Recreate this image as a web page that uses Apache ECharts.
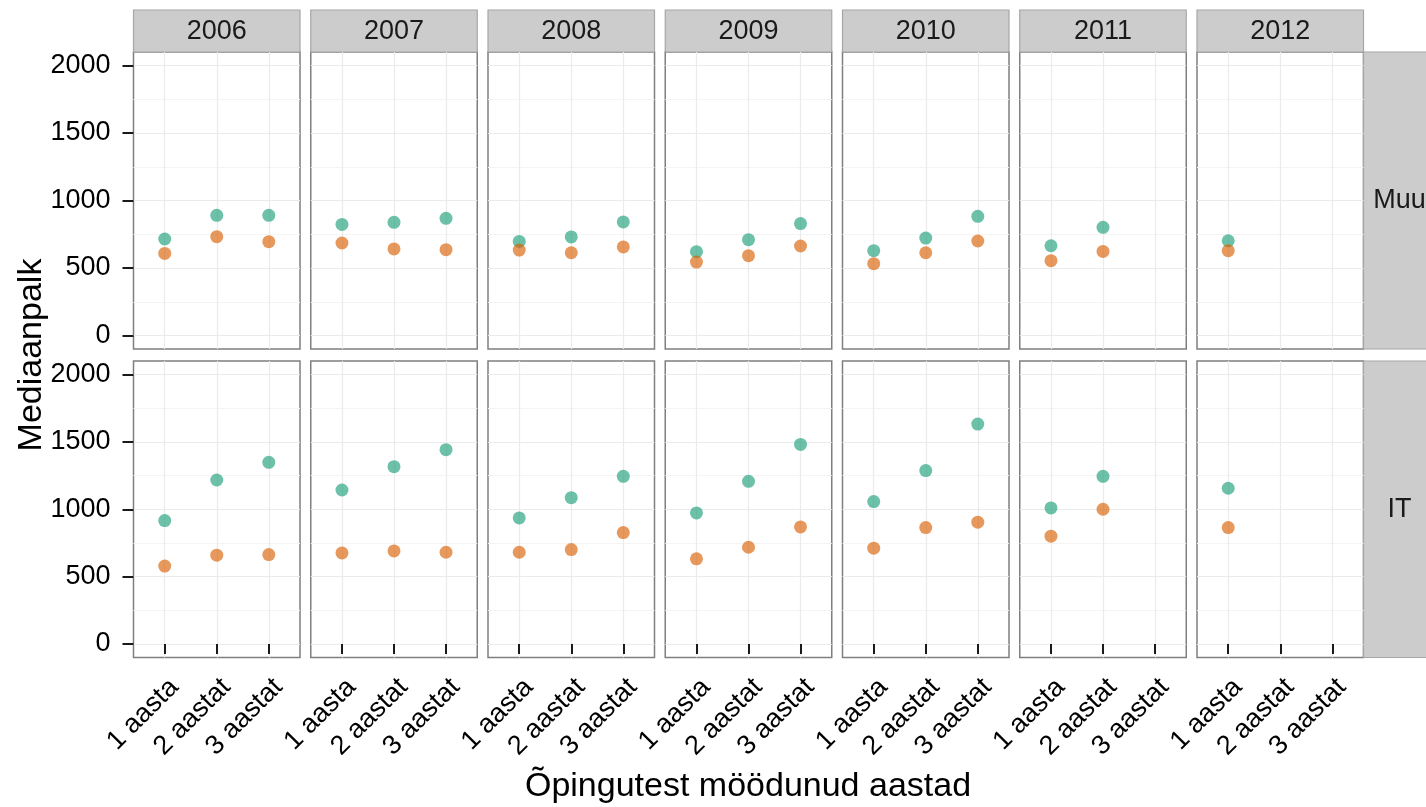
<!DOCTYPE html>
<html>
<head>
<meta charset="utf-8">
<title>Mediaanpalk</title>
<script src="https://cdn.jsdelivr.net/npm/echarts@6/dist/echarts.min.js"></script>
<style>
  html, body { margin: 0; padding: 0; background: #fff; }
  #chart { width: 1426px; height: 807px; }
</style>
</head>
<body>
<div id="chart"></div>
<script>
const years = ["2006", "2007", "2008", "2009", "2010", "2011", "2012"];
const categories = ["1 aasta", "2 aastat", "3 aastat"];
const rows = ["Muu", "IT"];
const yTicks = [0, 500, 1000, 1500, 2000];
const yMinor = [250, 750, 1250, 1750];

// values per year, one entry per category (null = no data)
const muuTeal = [[715, 890, 890], [823, 838, 868], [697, 730, 841], [621, 710, 829], [628, 722, 883], [665, 801, null], [702, null, null]];
const muuOrange = [[608, 732, 695], [685, 641, 636], [633, 613, 656], [544, 591, 663], [532, 613, 700], [554, 623, null], [628, null, null]];
const itTeal = [[916, 1217, 1348], [1143, 1316, 1442], [936, 1086, 1244], [973, 1207, 1481], [1057, 1287, 1632], [1010, 1244, null], [1156, null, null]];
const itOrange = [[578, 659, 664], [676, 691, 681], [681, 701, 827], [632, 718, 869], [711, 864, 904], [800, 1000, null], [864, null, null]];

const teal = "rgba(27,158,119,0.8)";
const orange = "rgba(217,95,2,0.8)";
const font = "Liberation Sans, Arial, sans-serif";

const panelLeft = 133.5, panelStep = 177.25, panelW = 166.5;
const rowTop = [52, 361], rowH = [297, 296.5];

const chart = echarts.init(document.getElementById("chart"));

const grid = [], xAxis = [], yAxis = [], series = [], graphic = [];
const rowData = [[muuTeal, muuOrange], [itTeal, itOrange]];

const toPoints = (vals) => vals.map((v, i) => (v == null ? null : [i + 1, v])).filter((p) => p);

rows.forEach((rowName, r) => {
  years.forEach((year, c) => {
    const g = r * 7 + c;
    grid.push({
      left: panelLeft + c * panelStep,
      top: rowTop[r],
      width: panelW,
      height: rowH[r],
      show: true,
      backgroundColor: "#fff",
      borderColor: "#7f7f7f",
      borderWidth: 1.5,
    });
    const bottom = r === 1;
    xAxis.push({
      type: "value",
      gridIndex: g,
      min: 0.4,
      max: 3.6,
      axisLine: { show: false },
      axisTick: {
        show: bottom,
        customValues: [1, 2, 3],
        length: 10,
        lineStyle: { color: "#1a1a1a", width: 2 },
      },
      axisLabel: {
        show: bottom,
        customValues: [1, 2, 3],
        formatter: (v) => categories[Math.round(v) - 1],
        rotate: 45,
        verticalAlign: "top",
        margin: 16,
        fontSize: 27,
        fontFamily: font,
        color: "#000",
      },
      splitLine: { show: true, lineStyle: { color: "#ebebeb", width: 1.2 } },
    });
    const left = c === 0;
    yAxis.push({
      type: "value",
      gridIndex: g,
      min: -100,
      max: 2100,
      axisLine: { show: false },
      axisTick: {
        show: left,
        customValues: yTicks,
        length: 11,
        lineStyle: { color: "#1a1a1a", width: 2 },
      },
      axisLabel: {
        show: left,
        customValues: yTicks,
        formatter: (v) => String(v),
        margin: 23,
        fontSize: 27,
        fontFamily: font,
        color: "#000",
      },
      splitLine: { show: true, lineStyle: { color: "#ebebeb", width: 1.2 } },
    });
    // minor grid lines
    yAxis.push({
      type: "value",
      gridIndex: g,
      position: "left",
      min: -100,
      max: 2100,
      axisLine: { show: false },
      axisTick: { show: false, customValues: yMinor },
      axisLabel: { show: false, customValues: yMinor },
      splitLine: { show: true, lineStyle: { color: "#f4f4f4", width: 1.2 } },
    });
    [teal, orange].forEach((col, k) => {
      series.push({
        type: "scatter",
        name: rowName + " " + year + " " + k,
        xAxisIndex: g,
        yAxisIndex: g * 2,
        symbolSize: 13,
        itemStyle: { color: col },
        data: toPoints(rowData[r][k][c]),
        silent: true,
        z: 3 + k,
      });
    });
  });
});

// top strips with years
years.forEach((year, c) => {
  const x = panelLeft + c * panelStep;
  graphic.push({
    type: "rect",
    shape: { x: x, y: 10, width: panelW, height: 42 },
    style: { fill: "#cccccc", stroke: "#a6a6a6", lineWidth: 1.2 },
  });
  graphic.push({
    type: "text",
    x: x + panelW / 2,
    y: 32,
    style: { text: year, font: "27px " + font, fill: "#1a1a1a", textAlign: "center", textVerticalAlign: "middle" },
  });
});

// right strips with rows
rows.forEach((rowName, r) => {
  const stripX = panelLeft + 6 * panelStep + panelW;
  graphic.push({
    type: "rect",
    shape: { x: stripX, y: rowTop[r], width: 72, height: rowH[r] },
    style: { fill: "#cccccc", stroke: "#a6a6a6", lineWidth: 1.2 },
  });
  graphic.push({
    type: "text",
    x: stripX + 36,
    y: rowTop[r] + rowH[r] / 2,
    style: { text: rowName, font: "27px " + font, fill: "#1a1a1a", textAlign: "center", textVerticalAlign: "middle" },
  });
});

// axis titles
graphic.push({
  type: "text",
  x: 32,
  y: 355,
  rotation: Math.PI / 2,
  style: { text: "Mediaanpalk", font: "34px " + font, fill: "#000", textAlign: "center", textVerticalAlign: "middle" },
});
graphic.push({
  type: "text",
  x: 748,
  y: 787,
  style: { text: "Õpingutest möödunud aastad", font: "34px " + font, fill: "#000", textAlign: "center", textVerticalAlign: "middle" },
});

chart.setOption({
  animation: false,
  backgroundColor: "#fff",
  grid: grid,
  xAxis: xAxis,
  yAxis: yAxis,
  series: series,
  graphic: graphic,
});
</script>
</body>
</html>
